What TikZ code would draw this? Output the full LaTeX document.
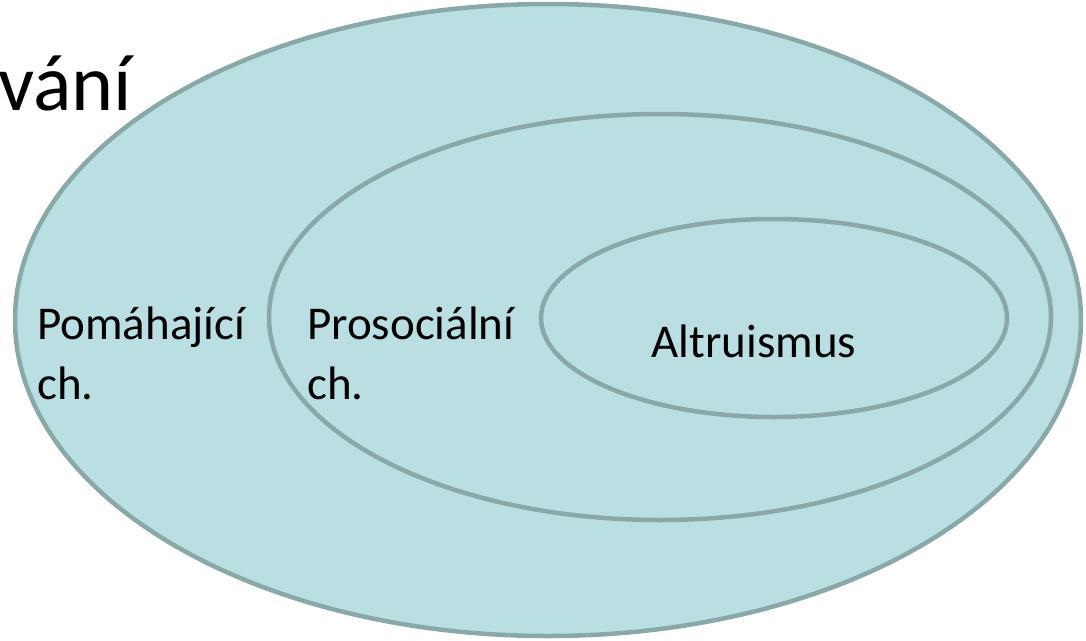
\documentclass[tikz,border=0pt]{standalone}
\usepackage{fontspec}
\setmainfont{Carlito}
\definecolor{fillc}{HTML}{B9DFE2}
\definecolor{linec}{HTML}{8AA8A8}
\begin{document}
\begin{tikzpicture}[x=1pt,y=-1pt,
  ell/.style={fill=fillc,draw=linec,line width=4.5pt},
  lbl/.style={inner sep=0pt,font=\fontsize{47}{60}\selectfont,align=left,anchor=base west}]
\useasboundingbox (0,0) rectangle (1086,640);
\node[inner sep=0pt,anchor=base west,font=\fontsize{80}{90}\selectfont] (title) at (-2,110) {vání};
\draw[ell] (548,320) ellipse [x radius=533, y radius=316];
\draw[ell] (660,317) ellipse [x radius=391, y radius=203];
\draw[ell] (774,318) ellipse [x radius=233, y radius=99];
\node[lbl] (pom) at (37,399) {Pomáhající\\ch.};
\node[lbl] (pro) at (307,399) {Prosociální\\ch.};
\node[inner sep=0pt,anchor=base,font=\fontsize{47}{57}\selectfont] (alt) at (754,357) {Altruismus};
\end{tikzpicture}
\end{document}
